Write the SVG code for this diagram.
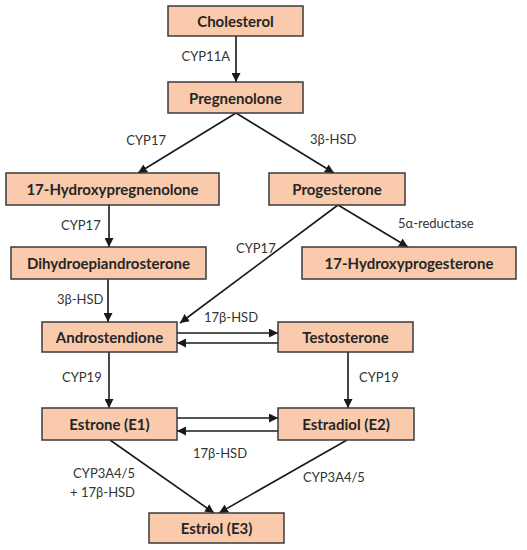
<svg xmlns="http://www.w3.org/2000/svg" width="527" height="550" viewBox="0 0 527 550">
<defs>
<marker id="ah" viewBox="0 0 10 10" refX="10" refY="5" markerWidth="9" markerHeight="9" markerUnits="userSpaceOnUse" orient="auto">
<path d="M0,0 L10,5 L0,10 z" fill="#1a1a1a"/>
</marker>
<style>
.box{fill:#F9CBAC;stroke:#3a3a3a;stroke-width:1.5}
.nt{font-family:Lato,"Open Sans",sans-serif;font-weight:bold;font-size:15px;fill:#262626;text-anchor:middle;dominant-baseline:central}
.lb{font-family:Lato,"Open Sans",sans-serif;font-size:13px;fill:#333333;dominant-baseline:central}
.cn line{stroke:#1a1a1a;stroke-width:1.6;marker-end:url(#ah)}
</style>
</defs>
<rect width="527" height="550" fill="#ffffff"/>
<g class="cn" id="connectors">
<line x1="236" y1="36" x2="236" y2="82"/>
<line x1="236" y1="113" x2="138" y2="173"/>
<line x1="236" y1="113" x2="334" y2="173"/>
<line x1="109" y1="205" x2="109" y2="247"/>
<line x1="338" y1="205" x2="408" y2="247"/>
<line x1="338" y1="205" x2="180" y2="323"/>
<line x1="108" y1="279" x2="108" y2="322"/>
<line x1="177" y1="333" x2="278" y2="333"/>
<line x1="278" y1="343" x2="177" y2="343"/>
<line x1="109" y1="352" x2="109" y2="408"/>
<line x1="348" y1="352" x2="348" y2="408"/>
<line x1="177" y1="418" x2="278" y2="418"/>
<line x1="278" y1="431" x2="177" y2="431"/>
<line x1="110" y1="440" x2="214" y2="513"/>
<line x1="347" y1="440" x2="219" y2="513"/>
</g>
<g id="labels">
<text class="lb" x="230" y="56" text-anchor="end">CYP11A</text>
<text class="lb" x="166" y="140" text-anchor="end">CYP17</text>
<text class="lb" x="310" y="139">3β-HSD</text>
<text class="lb" x="61" y="225">CYP17</text>
<text class="lb" x="398" y="223">5α-reductase</text>
<text class="lb" x="236" y="248">CYP17</text>
<text class="lb" x="57" y="299">3β-HSD</text>
<text class="lb" x="204" y="317">17β-HSD</text>
<text class="lb" x="62" y="377">CYP19</text>
<text class="lb" x="359" y="377">CYP19</text>
<text class="lb" x="193" y="453">17β-HSD</text>
<text class="lb" x="135" y="473" text-anchor="end">CYP3A4/5</text>
<text class="lb" x="135" y="492" text-anchor="end">+ 17β-HSD</text>
<text class="lb" x="303" y="477">CYP3A4/5</text>
</g>
<g id="n-cholesterol"><rect class="box" x="168" y="6" width="135" height="30"/><text class="nt" x="235.5" y="21">Cholesterol</text></g>
<g id="n-pregnenolone"><rect class="box" x="168" y="82" width="135" height="31"/><text class="nt" x="235.5" y="97.5">Pregnenolone</text></g>
<g id="n-17ohpreg"><rect class="box" x="6" y="173" width="213" height="32"/><text class="nt" x="112.5" y="189">17-Hydroxypregnenolone</text></g>
<g id="n-progesterone"><rect class="box" x="269" y="173" width="136" height="32"/><text class="nt" x="337" y="189">Progesterone</text></g>
<g id="n-dhea"><rect class="box" x="11" y="247" width="195" height="32"/><text class="nt" x="108.5" y="263">Dihydroepiandrosterone</text></g>
<g id="n-17ohprog"><rect class="box" x="302" y="247" width="214" height="32"/><text class="nt" x="409" y="263">17-Hydroxyprogesterone</text></g>
<g id="n-androstendione"><rect class="box" x="42" y="322" width="135" height="30"/><text class="nt" x="109.5" y="337">Androstendione</text></g>
<g id="n-testosterone"><rect class="box" x="278" y="322" width="135" height="30"/><text class="nt" x="345.5" y="337">Testosterone</text></g>
<g id="n-estrone"><rect class="box" x="42" y="408" width="135" height="32"/><text class="nt" x="109.5" y="424">Estrone (E1)</text></g>
<g id="n-estradiol"><rect class="box" x="278" y="408" width="136" height="32"/><text class="nt" x="346" y="424">Estradiol (E2)</text></g>
<g id="n-estriol"><rect class="box" x="149" y="513" width="135" height="30"/><text class="nt" x="216.5" y="528">Estriol (E3)</text></g>
</svg>
